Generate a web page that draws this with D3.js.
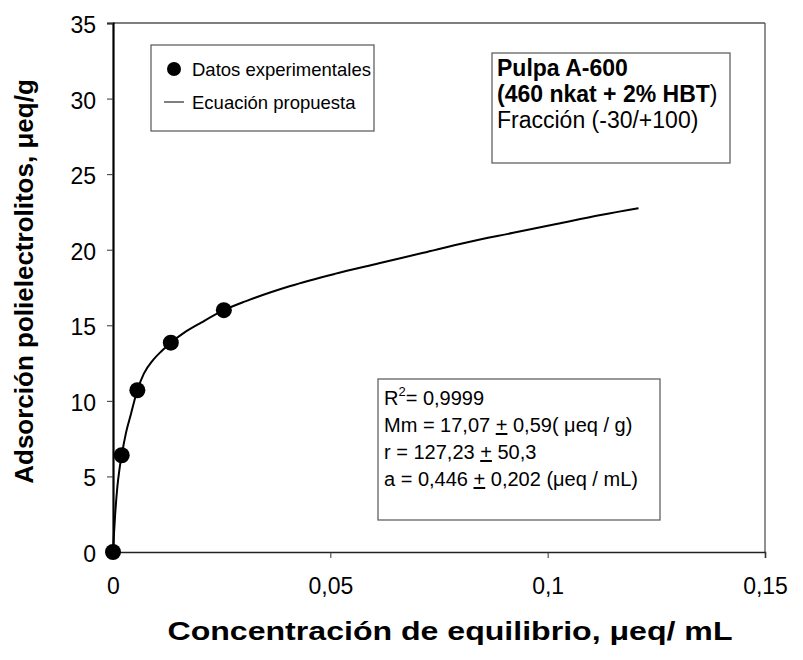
<!DOCTYPE html>
<html><head><meta charset="utf-8">
<script src="https://cdn.jsdelivr.net/npm/d3@7"></script>
<style>
body{margin:0;background:#fff}
text{font-family:Arial,"Liberation Sans",Helvetica,sans-serif;fill:#000}
</style>
</head><body>
<svg id="chart" width="803" height="660"></svg>
<script>
// Axis ticks
const xTicks = [0, 0.05, 0.1, 0.15];
const yTicks = [0, 5, 10, 15, 20, 25, 30, 35];

// Experimental adsorption data (C in µeq/mL, adsorbed in µeq/g)
const expC = [0, 0.002, 0.0056, 0.0133, 0.0255];
const expQ = [0, 6.4, 10.7, 13.85, 16.0];

// Proposed equation, sampled curve
const fitC = [0, 0.0002, 0.0005, 0.001, 0.0015, 0.002, 0.003, 0.0041, 0.0056, 0.0071, 0.0092, 0.0112, 0.0133, 0.0163, 0.0204, 0.0255, 0.0306, 0.0408, 0.051, 0.0612, 0.0714, 0.0816, 0.0918, 0.102, 0.1122, 0.1209];
const fitQ = [0, 1.1, 2.5, 4.3, 5.5, 6.4, 7.9, 9.1, 10.7, 11.8, 12.7, 13.3, 13.85, 14.5, 15.2, 16.0, 16.6, 17.6, 18.4, 19.1, 19.8, 20.5, 21.1, 21.7, 22.3, 22.75];

const legendLabels = ["Datos experimentales", "Ecuación propuesta"];

const fmt = v => String(v).replace(".", ",");

const svg = d3.select("#chart");
const L = 113, R = 765, T = 23, B = 552;

const x = d3.scaleLinear().domain([0, 0.15]).range([L, R]);
const y = d3.scaleLinear().domain([0, 35]).range([B, T]);

// frame: top and right border
svg.append("line").attr("x1", L).attr("x2", R).attr("y1", T).attr("y2", T).attr("stroke", "#555").attr("stroke-width", 1.3);
svg.append("line").attr("x1", R).attr("x2", R).attr("y1", T).attr("y2", B).attr("stroke", "#555").attr("stroke-width", 1.3);

// axes
const xAxis = svg.append("g").attr("transform", `translate(0,${B})`)
  .call(d3.axisBottom(x).tickValues(xTicks).tickSize(6).tickPadding(0).tickFormat(fmt));
const yAxis = svg.append("g").attr("transform", `translate(${L},0)`)
  .call(d3.axisLeft(y).tickValues(yTicks).tickSize(6).tickPadding(0).tickFormat(fmt));
[xAxis, yAxis].forEach(g => {
  g.selectAll("text").attr("font-size", 23).attr("font-family", "Arial, 'Liberation Sans', sans-serif").attr("fill", "#000");
  g.selectAll(".tick line").attr("stroke", "#333").attr("stroke-width", 1);
});
xAxis.selectAll("text").attr("y", 42).attr("dy", null);
yAxis.selectAll("text").attr("x", -17).attr("dy", null).attr("y", 9.5);
xAxis.select(".domain").attr("stroke", "#222").attr("stroke-width", 1.6);
yAxis.select(".domain").attr("stroke", "#000").attr("stroke-width", 2.2);

// fitted curve
const line = d3.line().x((d, i) => x(fitC[i])).y((d, i) => y(fitQ[i])).curve(d3.curveMonotoneX);
svg.append("path").datum(fitC).attr("d", line).attr("fill", "none").attr("stroke", "#000").attr("stroke-width", 2);

// experimental points
svg.append("g").selectAll("circle").data(expC).join("circle")
  .attr("cx", (d, i) => x(expC[i])).attr("cy", (d, i) => y(expQ[i])).attr("r", 8).attr("fill", "#000");

// legend
const lg = svg.append("g");
lg.append("rect").attr("x", 151).attr("y", 45).attr("width", 223).attr("height", 86).attr("fill", "#fff").attr("stroke", "#555").attr("stroke-width", 1.2);
lg.append("circle").attr("cx", 174).attr("cy", 69).attr("r", 7).attr("fill", "#000");
lg.append("text").attr("x", 192).attr("y", 76).attr("font-size", 18.5).text(legendLabels[0]);
lg.append("line").attr("x1", 164).attr("x2", 184).attr("y1", 102).attr("y2", 102).attr("stroke", "#000").attr("stroke-width", 1);
lg.append("text").attr("x", 192).attr("y", 109).attr("font-size", 18.5).text(legendLabels[1]);

// sample box
const sb = svg.append("g");
sb.append("rect").attr("x", 492).attr("y", 53).attr("width", 238).attr("height", 110).attr("fill", "#fff").attr("stroke", "#555").attr("stroke-width", 1.2);
sb.append("text").attr("x", 497).attr("y", 76).attr("font-size", 23).attr("font-weight", "bold").text("Pulpa A-600");
const t2 = sb.append("text").attr("x", 497).attr("y", 102).attr("font-size", 23);
t2.append("tspan").attr("font-weight", "bold").text("(460 nkat + 2% HBT");
t2.append("tspan").text(")");
sb.append("text").attr("x", 497).attr("y", 128).attr("font-size", 23).text("Fracción (-30/+100)");

// fit statistics box
const st = svg.append("g");
st.append("rect").attr("x", 378).attr("y", 379).attr("width", 282).attr("height", 141).attr("fill", "#fff").attr("stroke", "#555").attr("stroke-width", 1.2);
const statLines = [
  [["R", false], ["2", "sup"], ["= 0,9999", false]],
  [["Mm = 17,07 ", false], ["+", "u"], [" 0,59( μeq / g)", false]],
  [["r = 127,23 ", false], ["+", "u"], [" 50,3", false]],
  [["a = 0,446 ", false], ["+", "u"], [" 0,202 (μeq / mL)", false]]
];
const statY = [405, 432, 459, 486];
statLines.forEach((parts, i) => {
  const t = st.append("text").attr("x", 384).attr("y", statY[i]).attr("font-size", 20);
  parts.forEach(([s, k]) => {
    const ts = t.append("tspan").text(s);
    if (k === "sup") ts.attr("font-size", 13).attr("dy", -9);
    if (k === "u") ts.attr("text-decoration", "underline");
    if (i === 0 && s.startsWith("=")) ts.attr("dy", 9);
  });
});

// axis titles
svg.append("text").attr("x", 450).attr("y", 640).attr("text-anchor", "middle")
  .attr("font-size", 25).attr("font-weight", "bold")
  .attr("textLength", 565).attr("lengthAdjust", "spacingAndGlyphs")
  .text("Concentración de equilibrio, μeq/ mL");
svg.append("text").attr("transform", `translate(33,${(T + B) / 2 - 6}) rotate(-90)`).attr("text-anchor", "middle")
  .attr("font-size", 26).attr("font-weight", "bold").text("Adsorción polielectrolitos, μeq/g");
</script>
</body></html>
